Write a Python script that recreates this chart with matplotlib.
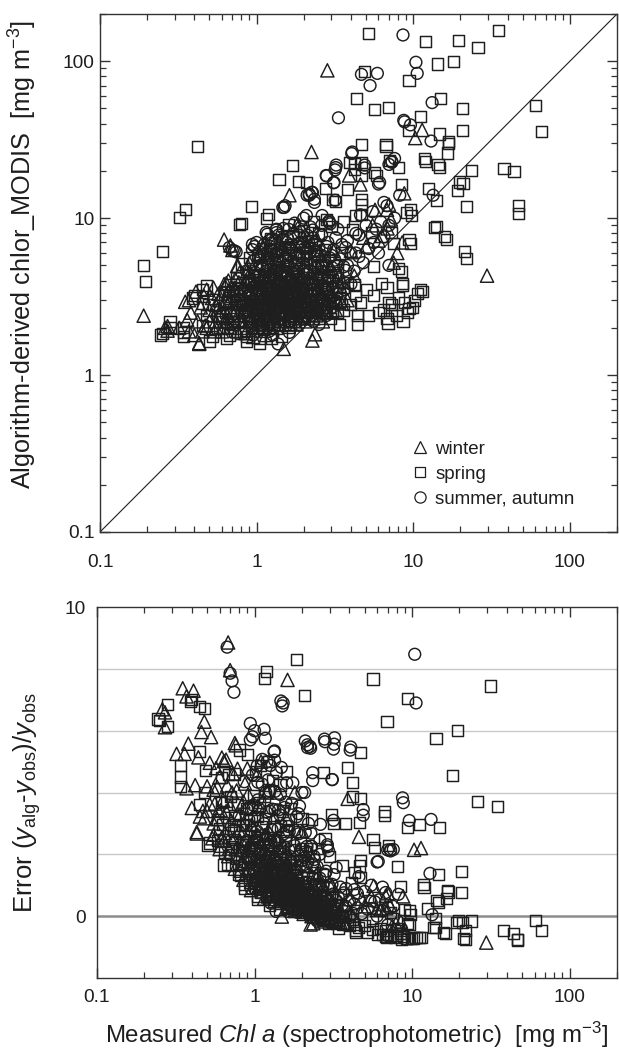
import numpy as np
import matplotlib
matplotlib.use("Agg")
import matplotlib.pyplot as plt
from matplotlib.ticker import LogLocator, NullFormatter, FixedLocator, FixedFormatter
from matplotlib.lines import Line2D

plt.rcParams['font.family'] = ['Liberation Sans', 'DejaVu Sans']
plt.rcParams['mathtext.fontset'] = 'custom'
plt.rcParams['mathtext.rm'] = 'Liberation Sans'
plt.rcParams['mathtext.it'] = 'Liberation Sans:italic'
plt.rcParams['mathtext.bf'] = 'Liberation Sans:bold'

# ---- data: (measured Chl a, algorithm-derived chlor_MODIS) in mg m-3 ----
winter_pts = [
    (0.19, 2.39), (0.26, 2.0), (0.27, 1.92), (0.27, 2.05), (0.32, 2.0), (0.35, 2.93),
    (0.37, 3.0), (0.36, 2.25), (0.37, 1.9), (0.40, 1.8), (0.43, 1.58), (0.43, 1.6),
    (0.45, 1.9), (0.47, 2.07), (0.48, 3.5), (0.50, 2.2), (0.55, 2.0), (0.58, 2.4),
    (0.60, 1.9), (0.62, 3.8), (0.62, 7.3), (0.68, 6.7), (0.70, 6.27), (0.64, 3.85),
    (0.75, 4.95), (0.76, 4.96), (0.78, 4.5), (0.55, 2.8), (0.52, 3.1), (0.60, 3.3),
    (0.66, 2.9), (0.70, 2.5), (0.72, 3.6), (0.80, 3.0), (0.82, 2.2), (0.85, 4.0),
    (0.88, 2.6), (0.92, 3.4), (0.95, 2.0), (1.0, 2.9), (1.04, 5.8), (1.05, 3.8),
    (1.1, 2.4), (1.15, 3.1), (1.2, 4.4), (1.25, 2.7), (1.3, 3.5), (1.35, 2.1),
    (1.4, 4.0), (1.45, 3.0), (1.49, 1.47), (1.5, 2.5), (1.55, 5.0), (1.6, 3.3),
    (1.62, 14.0), (1.65, 2.2), (1.7, 3.9), (1.75, 2.8), (1.8, 4.6), (1.9, 3.2),
    (2.0, 2.4), (2.1, 5.5), (2.2, 3.6), (2.24, 26.4), (2.27, 1.66), (2.36, 1.82),
    (2.4, 2.9), (2.5, 4.2), (2.7, 2.6), (2.83, 87.5), (2.9, 3.4), (3.1, 6.2),
    (3.3, 2.9), (3.5, 2.86), (3.9, 18.7), (4.2, 4.3), (4.6, 16.4), (5.0, 6.6),
    (5.7, 11.3), (6.3, 7.7), (6.8, 11.3), (6.85, 8.6), (7.0, 12.2), (7.5, 5.2),
    (7.9, 6.0), (8.5, 7.0), (8.77, 14.4), (10.3, 32.4), (11.4, 36.5), (29.6, 4.3),
    (0.95, 1.75), (1.15, 1.8), (1.8, 2.1), (0.9, 5.2), (1.2, 6.0), (1.4, 7.0),
    (1.0, 2.2), (1.22, 2.0), (1.6, 4.3), (2.3, 2.3), (2.6, 3.3), (2.0, 7.5),
    (1.8, 9.0), (2.5, 6.0), (3.0, 4.8), (0.68, 2.0), (0.75, 1.9), (0.85, 1.85),
    (0.62, 2.2), (0.56, 2.6), (0.52, 2.4),
    (0.55, 2.2), (0.57, 3.3), (0.59, 2.6), (0.61, 2.0), (0.63, 3.0), (0.65, 2.4),
    (0.67, 3.5), (0.69, 2.2), (0.71, 2.9), (0.73, 4.1), (0.76, 2.4), (0.79, 3.3),
    (0.81, 2.0), (0.83, 3.8), (0.86, 2.8), (0.89, 2.2), (0.91, 4.5), (0.94, 3.1),
    (0.97, 2.4), (0.99, 3.5), (1.02, 2.6), (1.05, 4.8), (1.07, 2.1), (1.09, 3.2),
    (1.12, 2.7), (1.14, 4.0), (1.17, 2.3), (1.19, 3.6), (1.22, 2.8), (1.25, 4.6),
    (1.28, 2.4), (1.31, 3.2), (1.34, 2.0), (1.37, 3.9), (1.40, 2.6), (1.44, 3.4),
    (1.47, 2.1), (1.51, 4.4), (1.55, 2.8), (1.59, 3.6), (1.63, 2.5), (1.67, 4.9),
    (1.72, 3.0), (1.77, 2.4), (1.82, 3.7), (1.87, 2.6), (1.93, 4.3), (1.98, 3.0),
    (2.05, 2.2), (2.12, 3.5), (2.2, 2.8), (2.3, 4.2), (2.4, 2.4), (2.55, 3.1),
    (2.7, 4.6), (2.85, 2.5), (3.0, 3.3), (3.2, 2.6), (3.5, 4.0), (3.8, 3.0),
    (4.0, 6.2), (4.8, 7.5), (5.5, 9.0), (6.0, 7.2), (7.2, 9.8),
    (0.42, 2.2), (0.44, 2.7), (0.46, 3.2), (0.48, 2.0), (0.50, 2.6), (0.53, 3.6),
    (0.54, 1.9), (0.58, 3.0), (0.61, 2.7), (0.64, 2.2), (0.66, 4.0), (0.70, 3.2),
    (0.74, 2.6), (0.77, 3.9), (0.80, 2.4), (0.84, 3.1), (0.87, 4.6), (0.90, 2.9),
    (0.96, 3.8), (1.01, 2.3), (1.06, 3.4), (1.11, 2.0), (1.16, 4.2), (1.21, 3.0),
    (1.27, 2.2), (1.33, 4.4), (1.39, 3.1), (1.46, 2.3), (1.53, 3.9), (1.61, 2.9),
    (1.70, 4.0), (1.79, 3.2), (1.88, 2.3), (1.97, 3.8), (2.1, 3.0), (2.25, 2.6),
    (2.45, 3.6), (2.65, 2.2), (0.38, 2.5), (0.41, 3.4),
    (1.1, 6.6), (1.33, 5.6), (1.58, 6.6), (1.9, 6.0), (2.2, 6.8), (2.65, 5.4),
    (3.05, 4.3), (3.4, 3.7),
]

spring_pts = [
    (0.19, 4.96), (0.196, 3.97), (0.25, 1.83), (0.244, 1.8), (0.252, 6.1), (0.28, 2.2),
    (0.28, 2.0), (0.32, 10.1), (0.35, 11.4), (0.34, 1.87), (0.34, 2.0), (0.34, 1.77),
    (0.39, 3.1), (0.40, 3.2), (0.42, 28.8), (0.45, 2.85), (0.45, 2.07), (0.45, 3.5),
    (0.48, 3.7), (0.48, 2.4), (0.49, 2.8), (0.50, 1.65), (0.52, 1.75), (0.58, 2.4),
    (0.64, 1.7), (0.67, 1.8), (0.7, 2.1), (0.75, 2.6), (0.80, 5.1), (0.80, 9.3),
    (0.78, 9.1), (0.86, 1.64), (0.86, 1.75), (0.9, 2.3), (0.93, 11.8), (1.0, 3.2),
    (1.04, 1.6), (1.04, 1.7), (1.08, 2.0), (1.12, 2.7), (1.15, 10.0), (1.19, 10.6),
    (1.23, 7.4), (1.25, 1.7), (1.3, 2.4), (1.35, 3.3), (1.39, 17.7), (1.45, 1.75),
    (1.5, 2.8), (1.6, 9.1), (1.6, 2.0), (1.69, 21.7), (1.75, 3.6), (1.85, 17.2),
    (1.9, 2.3), (2.0, 4.2), (2.08, 16.9), (2.2, 2.9), (2.4, 3.5), (2.6, 2.6),
    (2.75, 15.5), (2.8, 9.8), (3.07, 13.2), (3.07, 2.55), (3.17, 12.7), (3.4, 2.1),
    (3.5, 6.0), (3.8, 15.2), (3.9, 22.7), (4.1, 8.5), (4.2, 3.75), (4.2, 22.3),
    (4.2, 20.4), (4.33, 57.8), (4.3, 10.4), (4.4, 2.4), (4.4, 2.1), (4.65, 12.2),
    (4.65, 18.8), (4.7, 13.2), (4.7, 29.6), (4.7, 22.6), (4.7, 10.6), (4.9, 86.0),
    (5.2, 150.0), (5.4, 8.1), (5.6, 3.2), (5.6, 4.9), (5.65, 49.0), (5.65, 19.6),
    (5.8, 18.7), (6.3, 3.85), (6.7, 29.3), (6.7, 28.6), (6.8, 2.3), (6.8, 3.6),
    (6.9, 2.13), (6.93, 50.6), (7.1, 23.4), (7.3, 2.6), (7.3, 2.8), (7.3, 8.1),
    (7.5, 6.9), (8.1, 4.8), (8.1, 21.0), (8.4, 4.6), (8.4, 16.4), (8.5, 3.7),
    (8.5, 3.85), (9.0, 10.9), (9.2, 2.5), (9.3, 36.0), (9.4, 75.5), (9.4, 2.65),
    (9.4, 7.3), (9.6, 11.3), (9.6, 6.9), (9.8, 10.4), (10.6, 3.3), (11.1, 3.5),
    (11.2, 44.3), (11.4, 3.4), (11.8, 24.0), (11.9, 23.1), (11.9, 134.0), (12.5, 15.5),
    (13.6, 8.7), (14.0, 13.0), (14.0, 8.9), (14.2, 96.0), (14.4, 21.9), (14.7, 21.1),
    (14.7, 34.4), (14.9, 57.8), (15.8, 7.6), (16.3, 7.3), (16.5, 26.0), (16.7, 30.7),
    (16.9, 30.1), (18.0, 100.0), (19.1, 15.0), (19.4, 136.0), (19.7, 17.0), (20.5, 49.9),
    (20.5, 36.0), (20.8, 16.7), (21.2, 6.1), (21.8, 11.9), (21.9, 5.5), (23.7, 20.0),
    (25.9, 122.0), (31.5, 266.0), (34.8, 158.0), (38.0, 20.7), (44.0, 19.8), (46.7, 10.7),
    (46.7, 12.1), (60.7, 52.1), (66.3, 35.5),
    (6.5, 2.6), (7.8, 2.4), (8.8, 2.9), (9.9, 2.7), (8.0, 3.1), (7.0, 2.9),
    (6.0, 2.5), (5.2, 2.4), (10.2, 3.0), (8.6, 2.2),
    (0.75, 3.2), (0.85, 2.9), (0.95, 3.9), (1.05, 2.3), (1.1, 4.3), (1.2, 3.4),
    (1.28, 2.1), (1.4, 2.9), (1.55, 3.6), (1.7, 2.6), (1.8, 3.1), (2.0, 3.4),
    (2.3, 2.7), (2.6, 3.9), (2.9, 2.7), (3.2, 4.4), (1.45, 4.5), (1.15, 5.6),
    (0.98, 4.8), (1.6, 6.0), (2.1, 6.5), (2.5, 8.0), (3.0, 8.8), (3.6, 9.5),
    (0.60, 2.3), (0.62, 2.9), (0.65, 2.0), (0.68, 2.6), (0.70, 3.4), (0.72, 1.9),
    (0.74, 2.8), (0.77, 2.2), (0.78, 3.6), (0.80, 2.5), (0.82, 1.9), (0.84, 3.3),
    (0.87, 2.4), (0.89, 4.0), (0.91, 2.7), (0.93, 2.0), (0.96, 3.0), (0.98, 2.5),
    (1.00, 3.6), (1.02, 2.1), (1.04, 4.4), (1.06, 2.8), (1.08, 3.3), (1.10, 1.95),
    (1.12, 3.9), (1.14, 2.5), (1.16, 3.0), (1.18, 4.9), (1.20, 2.2), (1.22, 3.7),
    (1.24, 2.9), (1.26, 4.2), (1.28, 2.6), (1.31, 3.1), (1.33, 5.2), (1.36, 2.3),
    (1.38, 3.9), (1.41, 2.7), (1.43, 4.6), (1.46, 3.2), (1.48, 2.2), (1.51, 3.8),
    (1.54, 2.6), (1.57, 5.4), (1.60, 3.0), (1.63, 2.4), (1.66, 4.1), (1.69, 2.9),
    (1.72, 3.4), (1.76, 2.2), (1.80, 4.8), (1.83, 2.7), (1.87, 3.6), (1.91, 2.5),
    (1.95, 5.8), (1.99, 3.0), (2.03, 2.3), (2.08, 3.9), (2.13, 2.8), (2.18, 4.6),
    (2.23, 2.4), (2.28, 3.3), (2.34, 5.2), (2.40, 2.7), (2.46, 3.8), (2.52, 2.3),
    (2.60, 4.4), (2.68, 3.0), (2.76, 2.5), (2.85, 3.5), (2.95, 2.3), (3.05, 4.0),
    (3.2, 2.9), (3.4, 3.3), (3.6, 2.6), (3.8, 3.9), (4.0, 2.8), (4.3, 3.2),
    (4.6, 2.9), (5.0, 3.5),
    (0.58, 2.0), (0.63, 2.5), (0.66, 3.1), (0.71, 2.3), (0.76, 3.0), (0.79, 1.85),
    (0.83, 2.6), (0.88, 3.5), (0.92, 2.2), (0.95, 4.3), (0.99, 2.8), (1.03, 3.5),
    (1.07, 5.0), (1.11, 2.4), (1.15, 3.2), (1.19, 2.0), (1.23, 4.0), (1.27, 3.0),
    (1.32, 4.6), (1.37, 2.5), (1.42, 3.5), (1.47, 5.8), (1.52, 2.9), (1.58, 4.3),
    (1.64, 2.1), (1.70, 3.8), (1.78, 2.9), (1.85, 5.2), (1.93, 3.3), (2.02, 2.6),
    (2.12, 4.2), (2.22, 3.2), (2.33, 2.5), (2.45, 4.9), (2.58, 3.4), (2.72, 2.8),
    (2.9, 4.0), (3.1, 3.0), (3.3, 2.5), (3.6, 3.6), (1.09, 6.4), (1.3, 7.0),
    (1.7, 7.6), (2.0, 8.3), (0.9, 5.6), (1.5, 6.6), (2.4, 5.8), (0.75, 4.2),
    (0.68, 3.8), (0.62, 3.4),
    (1.02, 5.8), (1.22, 6.2), (1.45, 7.6), (1.65, 6.8), (1.95, 6.6), (2.25, 7.2),
    (2.55, 5.0), (2.8, 4.2), (3.1, 5.0), (3.3, 4.5), (2.7, 6.3), (2.3, 9.5),
]

summer_pts = [
    (0.67, 6.5), (0.70, 6.2), (0.72, 6.2), (0.74, 6.1), (0.94, 6.3), (0.94, 6.8),
    (0.97, 6.6), (1.04, 6.1), (1.15, 8.1), (1.17, 7.9), (1.25, 6.3), (1.33, 8.4),
    (1.34, 8.1), (1.34, 8.5), (1.47, 11.7), (1.5, 11.7), (1.52, 12.0), (2.0, 10.0),
    (2.08, 10.4), (2.1, 14.0), (2.17, 14.0), (2.17, 14.2), (2.25, 14.6), (2.27, 14.6),
    (2.34, 12.6), (2.34, 13.2), (2.62, 10.4), (2.78, 18.7), (2.8, 18.6), (2.9, 9.6),
    (2.9, 9.4), (3.1, 16.8), (3.12, 16.9), (3.17, 13.0), (3.17, 20.3), (3.2, 21.0),
    (3.22, 21.8), (3.33, 43.6), (3.7, 4.65), (4.05, 25.8), (4.08, 26.4), (4.3, 6.0),
    (4.5, 5.7), (4.67, 82.5), (4.9, 20.9), (4.9, 21.8), (5.3, 70.0), (5.8, 8.5),
    (5.9, 83.7), (6.0, 16.5), (6.1, 16.9), (6.5, 12.6), (7.0, 5.0), (7.0, 22.0),
    (7.3, 22.7), (7.3, 23.0), (7.6, 24.0), (8.6, 147.0), (8.7, 42.0), (8.8, 41.1),
    (9.6, 39.3), (10.4, 98.5), (10.6, 83.7), (13.0, 31.0), (13.2, 54.5), (13.4, 14.0),
    (2.4, 6.8), (2.0, 2.36),
    (0.85, 2.6), (0.9, 3.1), (0.95, 3.6), (1.0, 2.4), (1.0, 4.2), (1.05, 2.9),
    (1.05, 5.0), (1.1, 3.3), (1.1, 2.2), (1.15, 3.8), (1.15, 4.6), (1.2, 2.6),
    (1.2, 3.0), (1.25, 3.5), (1.25, 5.5), (1.3, 2.3), (1.3, 4.0), (1.35, 2.8),
    (1.35, 3.2), (1.4, 3.7), (1.4, 4.8), (1.45, 2.5), (1.45, 6.2), (1.5, 3.0),
    (1.5, 3.4), (1.55, 4.2), (1.6, 2.2), (1.6, 2.7), (1.65, 3.6), (1.65, 5.2),
    (1.7, 3.1), (1.7, 4.5), (1.75, 2.5), (1.8, 3.8), (1.8, 6.8), (1.85, 2.9),
    (1.9, 3.3), (1.9, 4.1), (1.95, 2.3), (2.0, 2.7), (2.0, 5.6), (2.1, 3.5),
    (2.1, 4.4), (2.2, 2.6), (2.2, 3.0), (2.3, 3.9), (2.3, 7.5), (2.4, 2.5),
    (2.4, 4.8), (2.5, 3.3), (2.6, 2.8), (2.6, 5.8), (2.7, 3.7), (2.8, 2.4),
    (2.9, 4.3), (3.0, 3.1), (3.1, 6.3), (3.3, 3.6), (3.5, 2.9), (3.6, 4.9),
    (3.8, 7.2), (4.0, 3.8), (1.2, 1.9), (1.37, 1.58), (1.27, 1.8), (1.62, 1.87),
    (1.87, 2.1), (2.3, 2.2), (2.5, 2.1), (1.0, 1.9), (0.95, 1.8),
    (0.80, 3.4), (0.83, 2.2), (0.86, 4.6), (0.88, 2.9), (0.92, 3.8), (0.95, 2.6),
    (0.97, 5.4), (1.00, 3.2), (1.02, 2.7), (1.04, 3.9), (1.06, 2.1), (1.08, 4.8),
    (1.10, 3.0), (1.12, 5.9), (1.14, 2.4), (1.16, 3.5), (1.18, 2.8), (1.20, 4.2),
    (1.22, 6.6), (1.24, 2.5), (1.26, 3.2), (1.29, 4.9), (1.31, 2.7), (1.33, 3.8),
    (1.35, 6.0), (1.37, 2.2), (1.39, 3.4), (1.42, 4.4), (1.44, 2.9), (1.46, 7.2),
    (1.49, 3.6), (1.52, 2.4), (1.54, 5.0), (1.57, 3.1), (1.59, 4.0), (1.62, 2.6),
    (1.64, 6.4), (1.67, 3.3), (1.69, 2.3), (1.72, 4.7), (1.74, 3.8), (1.77, 2.8),
    (1.79, 5.6), (1.82, 3.2), (1.85, 4.3), (1.88, 2.5), (1.91, 7.0), (1.94, 3.6),
    (1.97, 2.8), (2.00, 4.6), (2.04, 3.1), (2.08, 6.0), (2.12, 2.5), (2.16, 3.8),
    (2.20, 5.1), (2.25, 2.9), (2.30, 4.4), (2.35, 3.3), (2.40, 6.2), (2.45, 2.8),
    (2.50, 4.0), (2.56, 3.1), (2.62, 5.0), (2.68, 2.6), (2.74, 3.6), (2.80, 6.6),
    (2.88, 3.0), (2.96, 4.5), (3.05, 2.7), (3.15, 5.4), (3.25, 3.3), (3.35, 4.1),
    (3.5, 6.8), (3.65, 3.5), (3.8, 5.0), (4.0, 6.0), (4.2, 4.6), (4.5, 7.8),
    (4.8, 5.2), (5.2, 6.4), (5.6, 7.0), (6.0, 6.0), (6.5, 7.6), (7.0, 9.0),
    (2.2, 8.8), (2.6, 9.0), (1.9, 8.2), (1.6, 8.5), (1.2, 7.2), (1.0, 7.0),
    (3.3, 5.0), (3.7, 6.5), (4.3, 8.0), (5.0, 9.0), (5.5, 11.0), (6.2, 9.5),
    (6.8, 12.0), (7.6, 10.0), (8.2, 14.0), (4.6, 10.5),
    (0.90, 4.0), (0.93, 2.9), (0.98, 4.5), (1.01, 3.5), (1.03, 2.3), (1.07, 3.6),
    (1.09, 2.6), (1.11, 4.0), (1.13, 3.1), (1.17, 2.6), (1.19, 5.2), (1.21, 3.3),
    (1.23, 2.4), (1.27, 4.3), (1.30, 3.5), (1.32, 2.6), (1.36, 4.6), (1.38, 3.0),
    (1.41, 5.4), (1.43, 2.3), (1.47, 3.9), (1.50, 2.7), (1.53, 4.6), (1.56, 2.9),
    (1.58, 3.5), (1.61, 5.8), (1.63, 3.0), (1.66, 2.5), (1.68, 4.0), (1.71, 3.5),
    (1.73, 2.7), (1.76, 5.0), (1.78, 3.4), (1.81, 2.5), (1.84, 4.6), (1.86, 3.1),
    (1.89, 3.9), (1.92, 2.7), (1.96, 5.2), (1.99, 3.3), (2.03, 4.0), (2.07, 2.6),
    (2.11, 5.5), (2.15, 3.2), (2.19, 4.1), (2.24, 2.4), (2.29, 3.5), (2.34, 6.2),
    (2.39, 3.0), (2.44, 4.3), (2.52, 2.6), (2.6, 3.6), (2.7, 4.8), (2.8, 3.2),
    (2.92, 5.6), (3.05, 3.6), (1.55, 7.0), (1.85, 7.8), (2.15, 7.0), (1.35, 6.8),
    (1.05, 5.6), (1.12, 6.8), (1.18, 5.9), (1.26, 7.4), (1.30, 5.8), (1.38, 7.8),
    (1.42, 6.3), (1.48, 8.6), (1.53, 5.6), (1.58, 7.4), (1.66, 6.2), (1.72, 8.0),
    (1.80, 5.9), (1.86, 6.9), (1.93, 8.8), (2.02, 6.4), (2.10, 7.8), (2.18, 6.0),
    (2.28, 8.4), (2.38, 7.0), (2.50, 6.5), (2.60, 7.8), (2.72, 5.4), (2.85, 7.0),
    (3.00, 5.8), (3.20, 7.5), (3.40, 5.5), (3.30, 8.5), (2.95, 9.2), (1.75, 9.3),
]

seasons = ['winter', 'spring', 'summer, autumn']
markers = ['^', 's', 'o']
season_pts = [winter_pts, spring_pts, summer_pts]

# ---- style ----
ink = '#1e1e1e'
fs_tick = 13.8
msize = {'^': 9.5, 's': 8.0, 'o': 8.5}
mlw = 1.05

fig = plt.figure(figsize=(6.19, 10.5), dpi=100)
ax1 = fig.add_axes([100/619, (1050-532)/1050, 517/619, 518/1050])
ax2 = fig.add_axes([97/619, (1050-978)/1050, 520/619, 371/1050])

for pts, mk in zip(season_pts, markers):
    arr = np.array(pts)
    x, y = arr[:, 0], arr[:, 1]
    err = (y - x) / x
    ax1.scatter(x, y, marker=mk, s=msize[mk]**2, facecolors='none',
                edgecolors=ink, linewidths=mlw, zorder=3)
    ax2.scatter(x, err, marker=mk, s=msize[mk]**2, facecolors='none',
                edgecolors=ink, linewidths=mlw, zorder=3)

# ---- top panel ----
ax1.set_xscale('log')
ax1.set_yscale('log')
ax1.set_xlim(0.1, 200)
ax1.set_ylim(0.1, 200)
ax1.plot([0.1, 200], [0.1, 200], color=ink, lw=0.8, zorder=2)
for axis in (ax1.xaxis, ax1.yaxis):
    axis.set_major_locator(FixedLocator([0.1, 1, 10, 100]))
    axis.set_major_formatter(FixedFormatter(['0.1', '1', '10', '100']))
    axis.set_minor_locator(LogLocator(base=10, subs=np.arange(2, 10)))
    axis.set_minor_formatter(NullFormatter())
ax1.tick_params(which='both', direction='in', top=True, right=True,
                colors='#333333', labelcolor=ink, labelsize=fs_tick)
ax1.tick_params(which='major', length=7, width=1.0)
ax1.tick_params(which='minor', length=4, width=0.9)
ax1.tick_params(axis='x', which='major', pad=16)
ax1.tick_params(axis='y', which='major', pad=4)
ax1.set_ylabel('Algorithm-derived chlor_MODIS  [mg m$^{-3}$]', fontsize=18.2,
               color=ink)
ax1.yaxis.set_label_coords(-0.118, 0.535)

handles = [Line2D([], [], ls='none', marker=mk, markersize=msize[mk]*0.95,
                  markerfacecolor='none', markeredgecolor=ink, markeredgewidth=0.9)
           for mk in markers]
ax1.legend(handles, seasons, loc='lower right', bbox_to_anchor=(0.925, 0.04),
           frameon=False, fontsize=13.5, handlelength=0.9, handletextpad=0.35,
           labelspacing=0.42, borderaxespad=0.0, borderpad=0.2, labelcolor=ink)

# ---- bottom panel ----
ax2.set_xscale('log')
ax2.set_xlim(0.1, 200)
ax2.set_ylim(-2, 10)
for g in (2, 4, 6, 8):
    ax2.axhline(g, color='#c8c8c8', lw=1.0, zorder=1)
ax2.axhline(0, color='#8c8c8c', lw=1.8, zorder=1)
ax2.xaxis.set_major_locator(FixedLocator([0.1, 1, 10, 100]))
ax2.xaxis.set_major_formatter(FixedFormatter(['0.1', '1', '10', '100']))
ax2.xaxis.set_minor_locator(LogLocator(base=10, subs=np.arange(2, 10)))
ax2.xaxis.set_minor_formatter(NullFormatter())
ax2.set_yticks([0, 10])
ax2.set_yticklabels(['0', '10'])
ax2.tick_params(axis='x', which='both', direction='in', top=True,
                colors='#333333', labelcolor=ink, labelsize=fs_tick)
ax2.tick_params(axis='x', which='major', length=7, width=1.0, pad=8)
ax2.tick_params(axis='x', which='minor', length=4, width=0.9)
ax2.tick_params(axis='y', length=0, labelsize=fs_tick, labelcolor=ink, pad=8)
ax2.set_ylabel(r'Error ($y_{\mathrm{alg}}$-$y_{\mathrm{obs}}$)/$y_{\mathrm{obs}}$',
               fontsize=18.5, color=ink)
ax2.yaxis.set_label_coords(-0.104, 0.474)
ax2.set_xlabel(r'Measured $\mathit{Chl\ a}$ (spectrophotometric)  [mg m$^{-3}$]',
               fontsize=17.3, color=ink, labelpad=10)

for ax in (ax1, ax2):
    for sp in ax.spines.values():
        sp.set_color('#333333')
        sp.set_linewidth(1.0)

fig.savefig('out.png', dpi=100)
